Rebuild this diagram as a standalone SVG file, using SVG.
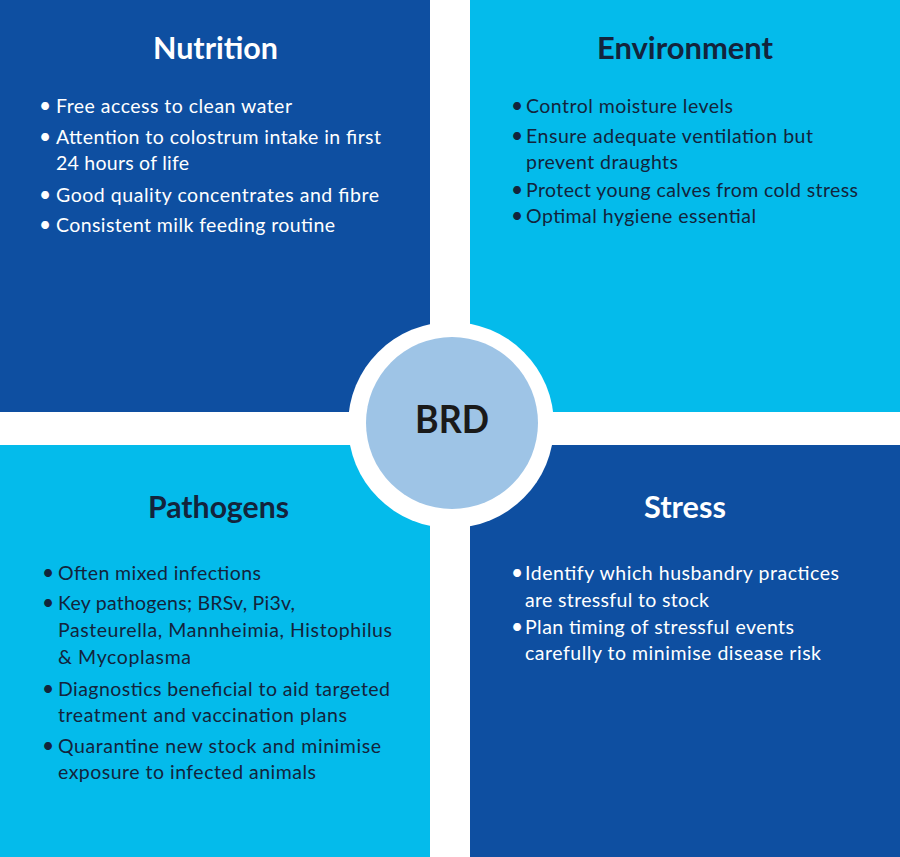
<svg xmlns="http://www.w3.org/2000/svg" width="900" height="857" viewBox="0 0 900 857">
<style>
.dark{fill:#0e4fa1}
.light{fill:#04bbeb}
.title{font-family:Lato,"Open Sans","Liberation Sans",sans-serif;font-weight:700;font-size:30px;text-anchor:middle}
.body{font-family:Lato,"Open Sans","Liberation Sans",sans-serif;font-size:19.5px}
.bul{font-family:Lato,"Open Sans","Liberation Sans",sans-serif;font-size:21px;text-anchor:middle}
.w{fill:#ffffff}
.k{fill:#13243c}
</style>
<rect x="0" y="0" width="900" height="857" fill="#ffffff"/>
<g id="nutrition">
<rect class="dark" x="0" y="0" width="430" height="412"/>
<text class="title w" x="215.5" y="59" textLength="125" lengthAdjust="spacingAndGlyphs">Nutrition</text>
<text class="bul w" x="45" y="112.5">•</text>
<text class="body w" x="56" y="112.5" textLength="236">Free access to clean water</text>
<text class="bul w" x="45" y="144">•</text>
<text class="body w" x="56" y="144" textLength="325">Attention to colostrum intake in first</text>
<text class="body w" x="56" y="170" textLength="133">24 hours of life</text>
<text class="bul w" x="45" y="201.5">•</text>
<text class="body w" x="56" y="201.5" textLength="323">Good quality concentrates and fibre</text>
<text class="bul w" x="45" y="231.5">•</text>
<text class="body w" x="56" y="231.5" textLength="279">Consistent milk feeding routine</text>
</g>
<g id="environment">
<rect class="light" x="470" y="0" width="430" height="412"/>
<text class="title k" x="685" y="59" textLength="176" lengthAdjust="spacingAndGlyphs">Environment</text>
<text class="bul k" x="517" y="112.5">•</text>
<text class="body k" x="526" y="112.5" textLength="207">Control moisture levels</text>
<text class="bul k" x="517" y="143">•</text>
<text class="body k" x="526" y="143" textLength="287">Ensure adequate ventilation but</text>
<text class="body k" x="526" y="169" textLength="152">prevent draughts</text>
<text class="bul k" x="517" y="196.5">•</text>
<text class="body k" x="526" y="196.5" textLength="332">Protect young calves from cold stress</text>
<text class="bul k" x="517" y="223">•</text>
<text class="body k" x="526" y="223" textLength="230">Optimal hygiene essential</text>
</g>
<g id="pathogens">
<rect class="light" x="0" y="445" width="430" height="412"/>
<text class="title k" x="218.5" y="518" textLength="141" lengthAdjust="spacingAndGlyphs">Pathogens</text>
<text class="bul k" x="48" y="580">•</text>
<text class="body k" x="58" y="580" textLength="203">Often mixed infections</text>
<text class="bul k" x="48" y="610">•</text>
<text class="body k" x="58" y="610" textLength="237">Key pathogens; BRSv, Pi3v,</text>
<text class="body k" x="58" y="636.5" textLength="334">Pasteurella, Mannheimia, Histophilus</text>
<text class="body k" x="58" y="664" textLength="133">&amp; Mycoplasma</text>
<text class="bul k" x="48" y="696">•</text>
<text class="body k" x="58" y="696" textLength="332">Diagnostics beneficial to aid targeted</text>
<text class="body k" x="58" y="721.5" textLength="289">treatment and vaccination plans</text>
<text class="bul k" x="48" y="753">•</text>
<text class="body k" x="58" y="753" textLength="323">Quarantine new stock and minimise</text>
<text class="body k" x="58" y="779" textLength="258">exposure to infected animals</text>
</g>
<g id="stress">
<rect class="dark" x="470" y="445" width="430" height="412"/>
<text class="title w" x="685" y="518" textLength="82" lengthAdjust="spacingAndGlyphs">Stress</text>
<text class="bul w" x="517" y="580">•</text>
<text class="body w" x="525" y="580" textLength="314">Identify which husbandry practices</text>
<text class="body w" x="525" y="607" textLength="184">are stressful to stock</text>
<text class="bul w" x="517" y="634">•</text>
<text class="body w" x="525" y="634" textLength="269">Plan timing of stressful events</text>
<text class="body w" x="525" y="660" textLength="296">carefully to minimise disease risk</text>
</g>
<g id="brd">
<circle cx="451" cy="425" r="103" fill="#ffffff"/>
<circle cx="452" cy="423" r="86" fill="#9ec4e6"/>
<text x="452" y="433" font-family="Lato,'Open Sans','Liberation Sans',sans-serif" font-weight="700" font-size="38" text-anchor="middle" fill="#1a1a1a" textLength="74" lengthAdjust="spacingAndGlyphs">BRD</text>
</g>
</svg>
